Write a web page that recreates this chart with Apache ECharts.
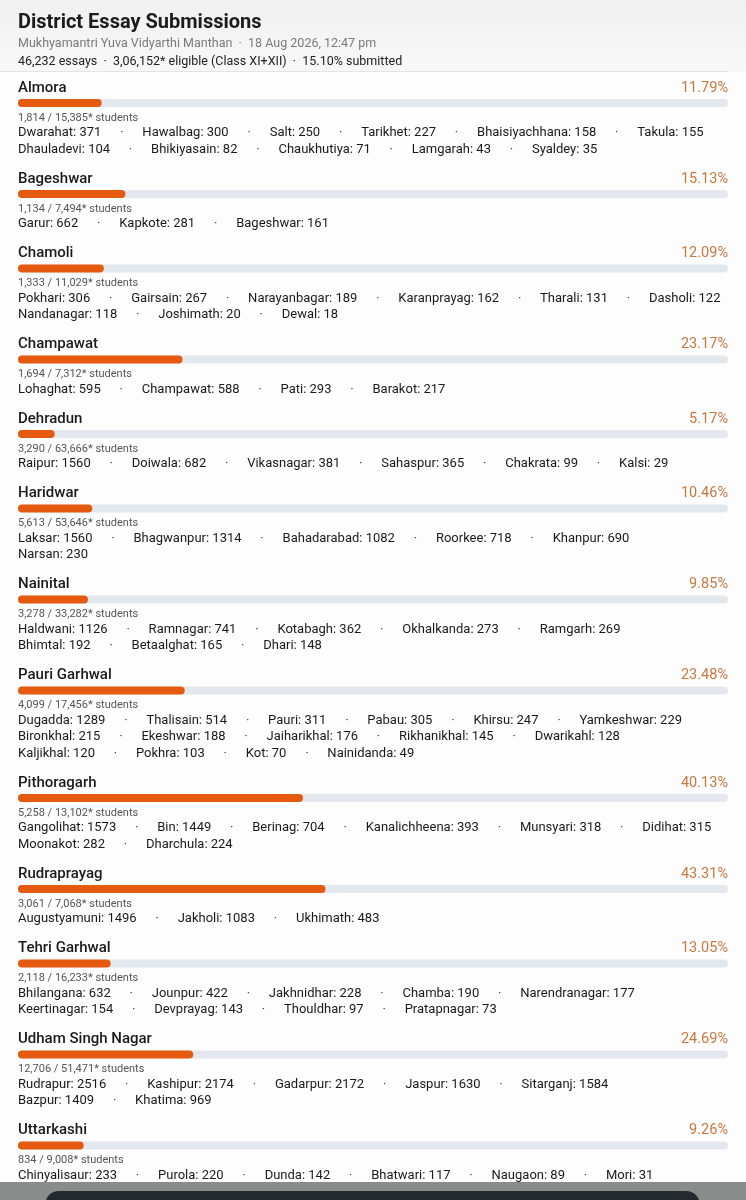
<!DOCTYPE html>
<html>
<head>
<meta charset="utf-8">
<title>District Essay Submissions</title>
<script src="https://cdn.jsdelivr.net/npm/echarts@6.0.0/dist/echarts.min.js"></script>
<style>
  html, body { margin: 0; padding: 0; background: #fdfdfd; }
  #chart { width: 746px; height: 1200px; }
</style>
</head>
<body>
<div id="chart"></div>
<script>
"use strict";

// ---- data ----
var districts = ["Almora", "Bageshwar", "Chamoli", "Champawat", "Dehradun", "Haridwar", "Nainital",
    "Pauri Garhwal", "Pithoragarh", "Rudraprayag", "Tehri Garhwal", "Udham Singh Nagar", "Uttarkashi"];
var submitted = [1814, 1134, 1333, 1694, 3290, 5613, 3278, 4099, 5258, 3061, 2118, 12706, 834];
var eligible  = [15385, 7494, 11029, 7312, 63666, 53646, 33282, 17456, 13102, 7068, 16233, 51471, 9008];

var blockNames = [
    ["Dwarahat", "Hawalbag", "Salt", "Tarikhet", "Bhaisiyachhana", "Takula", "Dhauladevi", "Bhikiyasain", "Chaukhutiya", "Lamgarah", "Syaldey"],
    ["Garur", "Kapkote", "Bageshwar"],
    ["Pokhari", "Gairsain", "Narayanbagar", "Karanprayag", "Tharali", "Dasholi", "Nandanagar", "Joshimath", "Dewal"],
    ["Lohaghat", "Champawat", "Pati", "Barakot"],
    ["Raipur", "Doiwala", "Vikasnagar", "Sahaspur", "Chakrata", "Kalsi"],
    ["Laksar", "Bhagwanpur", "Bahadarabad", "Roorkee", "Khanpur", "Narsan"],
    ["Haldwani", "Ramnagar", "Kotabagh", "Okhalkanda", "Ramgarh", "Bhimtal", "Betaalghat", "Dhari"],
    ["Dugadda", "Thalisain", "Pauri", "Pabau", "Khirsu", "Yamkeshwar", "Bironkhal", "Ekeshwar", "Jaiharikhal", "Rikhanikhal", "Dwarikahl", "Kaljikhal", "Pokhra", "Kot", "Nainidanda"],
    ["Gangolihat", "Bin", "Berinag", "Kanalichheena", "Munsyari", "Didihat", "Moonakot", "Dharchula"],
    ["Augustyamuni", "Jakholi", "Ukhimath"],
    ["Bhilangana", "Jounpur", "Jakhnidhar", "Chamba", "Narendranagar", "Keertinagar", "Devprayag", "Thouldhar", "Pratapnagar"],
    ["Rudrapur", "Kashipur", "Gadarpur", "Jaspur", "Sitarganj", "Bazpur", "Khatima"],
    ["Chinyalisaur", "Purola", "Dunda", "Bhatwari", "Naugaon", "Mori"]
];
var blockCounts = [
    [371, 300, 250, 227, 158, 155, 104, 82, 71, 43, 35],
    [662, 281, 161],
    [306, 267, 189, 162, 131, 122, 118, 20, 18],
    [595, 588, 293, 217],
    [1560, 682, 381, 365, 99, 29],
    [1560, 1314, 1082, 718, 690, 230],
    [1126, 741, 362, 273, 269, 192, 165, 148],
    [1289, 514, 311, 305, 247, 229, 215, 188, 176, 145, 128, 120, 103, 70, 49],
    [1573, 1449, 704, 393, 318, 315, 282, 224],
    [1496, 1083, 483],
    [632, 422, 228, 190, 177, 154, 143, 97, 73],
    [2516, 2174, 2172, 1630, 1584, 1409, 969],
    [233, 220, 142, 117, 89, 31]
];
// how many blocks sit on each wrapped line, as in the picture
var blockRows = [[6, 5], [3], [6, 3], [4], [6], [5, 1], [5, 3], [6, 5, 4], [6, 2], [3], [5, 4], [5, 2], [6]];

var titleText = "District Essay Submissions";
var subtitleText = "Mukhyamantri Yuva Vidyarthi Manthan  \u00b7  18 Aug 2026, 12:47 pm";

// ---- helpers ----
function fmtIN(n) {
    var s = String(n);
    if (s.length <= 3) return s;
    var rest = s.slice(0, -3).replace(/\B(?=(\d{2})+(?!\d))/g, ",");
    return rest + "," + s.slice(-3);
}

var FONT = "Roboto, 'Noto Sans', sans-serif";
var LEFT = 18, RIGHT = 18;
var TXT_DY = 2; // Roboto sits a little high with verticalAlign middle

var totalSub = submitted.reduce(function (a, b) { return a + b; }, 0);
var totalElig = eligible.reduce(function (a, b) { return a + b; }, 0);
var summaryText = fmtIN(totalSub) + " essays  \u00b7  " + fmtIN(totalElig) +
    "* eligible (Class XI+XII)  \u00b7  " + (totalSub / totalElig * 100).toFixed(2) + "% submitted";

var pct = submitted.map(function (v, i) { return v / eligible[i] * 100; });

// ---- layout ----
var grids = [], xAxes = [], yAxes = [], series = [];
var graphics = [
    {
        type: "rect", shape: { x: 0, y: 0, width: 746, height: 72 }, silent: true, z: -10,
        style: {
            fill: new echarts.graphic.LinearGradient(0, 0, 0, 1, [
                { offset: 0, color: "#f0f0f0" }, { offset: 1, color: "#f8f8f8" }
            ])
        }
    },
    { type: "line", shape: { x1: 0, y1: 71.5, x2: 728, y2: 71.5 }, style: { stroke: "#e4e4e4", lineWidth: 1 }, silent: true },
    { type: "text", x: LEFT, y: 21 + TXT_DY, style: { text: titleText, font: "bold 20px " + FONT, fill: "#1c1c1c", verticalAlign: "middle" } },
    { type: "text", x: LEFT, y: 42 + TXT_DY, style: { text: subtitleText, font: "12.5px " + FONT, fill: "#7a7a7a", verticalAlign: "middle" } },
    { type: "text", x: LEFT, y: 60 + TXT_DY, style: { text: summaryText, font: "12.5px " + FONT, fill: "#222222", verticalAlign: "middle" } }
];

var y = 86;
districts.forEach(function (name, i) {
    var barY = y + 17;

    grids.push({ left: LEFT, right: RIGHT, top: barY - 4, height: 8 });
    xAxes.push({ type: "value", gridIndex: i, min: 0, max: 100, show: false });
    yAxes.push({ type: "category", gridIndex: i, data: [name], show: false });
    series.push({
        type: "bar", name: name, xAxisIndex: i, yAxisIndex: i,
        data: [pct[i]], barWidth: 8, silent: true,
        showBackground: true,
        backgroundStyle: { color: "#e3e7ee", borderRadius: 4 },
        itemStyle: { color: "#e65a10", borderRadius: 4 }
    });

    graphics.push({ type: "text", x: LEFT, y: y + TXT_DY, style: { text: name, font: "500 15px " + FONT, fill: "#1a1a1a", verticalAlign: "middle" } });
    graphics.push({ type: "text", x: 746 - RIGHT, y: y + TXT_DY, style: { text: pct[i].toFixed(2) + "%", font: "14.5px " + FONT, fill: "#c9773f", align: "right", verticalAlign: "middle" } });
    graphics.push({
        type: "text", x: LEFT, y: y + 30 + TXT_DY,
        style: { text: fmtIN(submitted[i]) + " / " + fmtIN(eligible[i]) + "* students", font: "11px " + FONT, fill: "#555555", verticalAlign: "middle" }
    });

    var k = 0;
    blockRows[i].forEach(function (count, r) {
        var parts = [];
        for (var j = 0; j < count; j++, k++) {
            parts.push(blockNames[i][k] + ": " + blockCounts[i][k]);
        }
        graphics.push({
            type: "text", x: LEFT, y: y + 45 + 16.5 * r + TXT_DY,
            style: {
                text: parts.join("{s|\u00b7}"),
                font: "13px " + FONT, fill: "#1a1a1a", verticalAlign: "middle",
                rich: { s: { width: 41, align: "center", fill: "#444", font: "13px " + FONT } }
            }
        });
    });

    y = y + 45 + 16.5 * (blockRows[i].length - 1) + 29.5;
});

// phone navigation overlay at the bottom of the screenshot
graphics.push({ type: "rect", shape: { x: 0, y: 1182, width: 746, height: 18 }, style: { fill: "#8a8c8c" }, silent: true, z: 50 });
graphics.push({ type: "rect", shape: { x: 45, y: 1191, width: 655, height: 30, r: 14 }, style: { fill: "#23292d" }, silent: true, z: 51 });

var chart = echarts.init(document.getElementById("chart"), null, { renderer: "canvas" });
chart.setOption({
    animation: false,
    backgroundColor: "#fdfdfd",
    grid: grids,
    xAxis: xAxes,
    yAxis: yAxes,
    series: series,
    graphic: graphics
});
</script>
</body>
</html>
